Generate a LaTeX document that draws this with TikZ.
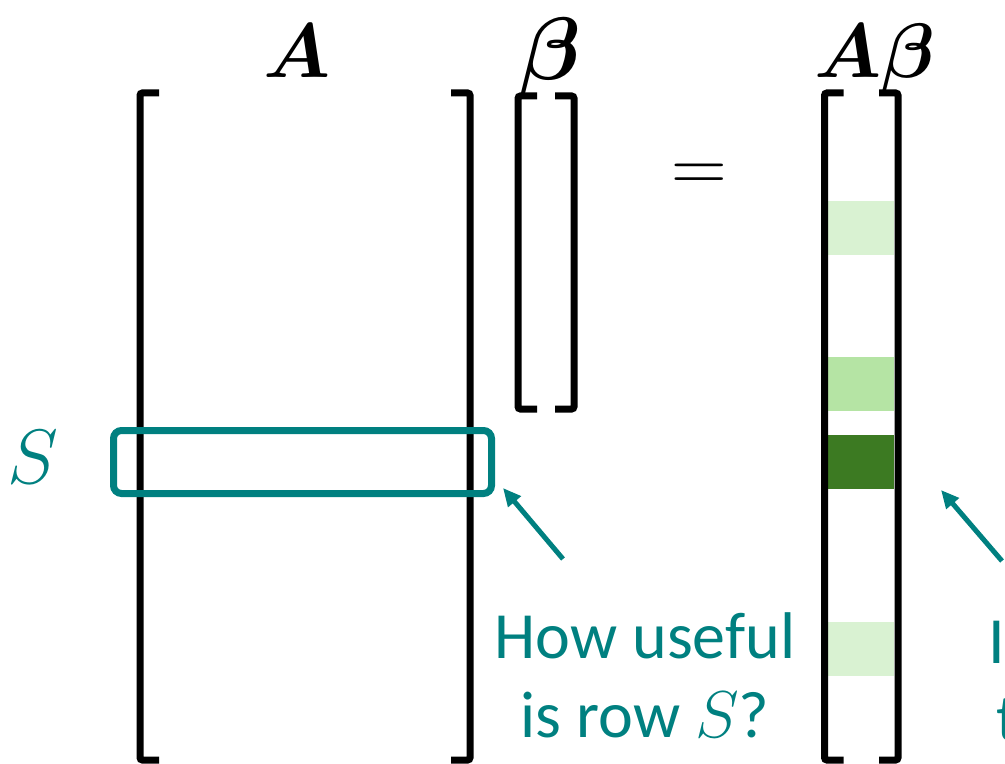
\documentclass[tikz,border=0pt]{standalone}
\usepackage{amsmath}
\usepackage{bm}
\usepackage{graphicx}
\usepackage{fontspec}
\setmainfont{Carlito}
\usepackage{tikz}
\usetikzlibrary{arrows.meta}
\definecolor{cRow}{RGB}{0,128,128}
\definecolor{cLight}{RGB}{217,242,210}
\definecolor{cMid}{RGB}{181,228,164}
\definecolor{cDark}{RGB}{60,122,34}
\newcommand{\bigmath}[1]{\scalebox{1.55}{\Huge$#1$}}
\newcommand{\textmath}[1]{\scalebox{1.33}{\Huge$#1$}}

\begin{document}
\begin{tikzpicture}[x=0.5pt, y=-0.5pt,
  brkt/.style={line width=3.5pt, rounded corners=1.2pt},
  heading/.style={anchor=base, inner sep=0pt},
  ask/.style={text=cRow, font=\fontsize{33}{39.5}\selectfont, inner sep=0pt},
  pointer/.style={draw=cRow, line width=2.5pt, -{Triangle[length=9pt,width=8pt]}},
  rowbox/.style={draw=cRow, line width=3.5pt, rounded corners=4pt,
    minimum width=189pt, minimum height=31.5pt, inner sep=0pt}]
\useasboundingbox (0,0) rectangle (1005,764);
% entries of A beta
\foreach \y/\c in {201/cLight, 357/cMid, 435/cDark, 622/cLight} {
  \fill[\c] (828,\y) rectangle (894,{\y+54});
}
% brackets: A, beta, A beta
\foreach \l/\r/\t/\b in {140/470/93/760, 518/574/96/409, 824.5/898/93/760} {
  \draw[brkt] ({\l+19},\t) -- (\l,\t) -- (\l,\b) -- ({\l+19},\b);
  \draw[brkt] ({\r-19},\t) -- (\r,\t) -- (\r,\b) -- ({\r-19},\b);
}
\node[heading] (tA) at (297,78) {\bigmath{\boldsymbol{A}}};
\node[heading] (tB) at (550,80) {\scalebox{1.15}{\bigmath{\boldsymbol{\beta}}}};
\node[heading] (tAB) at (875,78) {\bigmath{\boldsymbol{A\beta}}};
\node[heading, anchor=center] (eq) at (699,178) {\bigmath{=}};
% row S
\node[rowbox] (srow) at (302.5,462) {};
\node[ask] (slab) at (33,457) {\color{cRow}\bigmath{S}};
\node[ask, align=center, anchor=base] (q1) at (645,737) {How useful\\is row \textmath{S}?};
\coordinate (q1tail) at (563,559);
\coordinate (q1tip) at (503,488);
\draw[pointer] (q1tail) -- (q1tip);
\coordinate (q2tail) at (1002,561);
\coordinate (q2tip) at (941,490);
\draw[pointer] (q2tail) -- (q2tip);
\begin{scope}
\clip (0,0) rectangle (1005,764);
\node[ask, anchor=base west] (q2a) at (988,663) {It};
\node[ask, anchor=base west] (q2b) at (996,740) {t};
\end{scope}
\end{tikzpicture}
\end{document}
